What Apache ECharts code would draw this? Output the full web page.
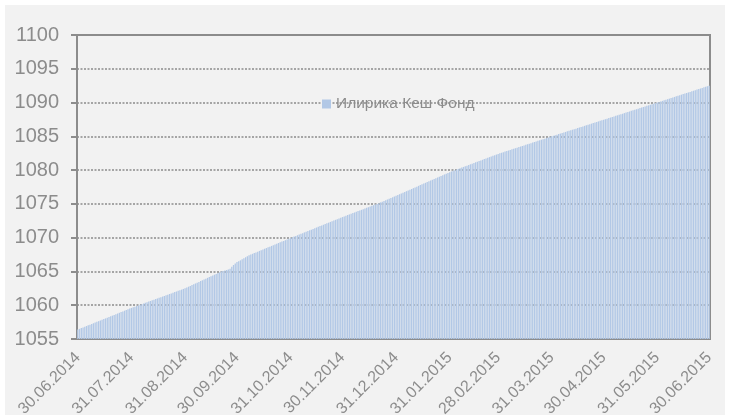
<!DOCTYPE html>
<html>
<head>
<meta charset="utf-8">
<script src="https://cdn.jsdelivr.net/npm/echarts@6/dist/echarts.min.js"></script>
<style>
  html, body { margin: 0; padding: 0; background: #ffffff; }
  #chart { position: absolute; left: 5px; top: 5px; width: 720px; height: 410px; }
</style>
</head>
<body>
<div id="chart"></div>
<script>
// месечни краеви за оската X
const tickLabels = ['30.06.2014', '31.07.2014', '31.08.2014', '30.09.2014', '31.10.2014', '30.11.2014',
  '31.12.2014', '31.01.2015', '28.02.2015', '31.03.2015', '30.04.2015', '31.05.2015', '30.06.2015']

const seriesName = 'Илирика Кеш Фонд'

// дневни вредности, прочитани од сликата
const jun2014 = [1056.40]
const jul2014 = [1056.50, 1056.61, 1056.71, 1056.81, 1056.92, 1057.02, 1057.12, 1057.23, 1057.33, 1057.43,
  1057.54, 1057.64, 1057.74, 1057.85, 1057.95, 1058.05, 1058.15, 1058.26, 1058.36, 1058.46,
  1058.57, 1058.67, 1058.77, 1058.88, 1058.98, 1059.08, 1059.19, 1059.29, 1059.39, 1059.50, 1059.60]
const aug2014 = [1059.69, 1059.79, 1059.88, 1059.97, 1060.07, 1060.16, 1060.25, 1060.35, 1060.44, 1060.54,
  1060.63, 1060.72, 1060.82, 1060.91, 1061.00, 1061.10, 1061.19, 1061.28, 1061.38, 1061.47,
  1061.56, 1061.66, 1061.75, 1061.84, 1061.94, 1062.03, 1062.13, 1062.22, 1062.31, 1062.41, 1062.50]
const sep2014 = [1062.62, 1062.74, 1062.86, 1062.98, 1063.10, 1063.22, 1063.33, 1063.45, 1063.57, 1063.69,
  1063.81, 1063.93, 1064.05, 1064.17, 1064.29, 1064.40, 1064.52, 1064.64, 1064.76, 1064.88,
  1065.00, 1065.07, 1065.14, 1065.21, 1065.28, 1065.40, 1065.70, 1065.95, 1066.18, 1066.40]
const oct2014 = [1066.52, 1066.64, 1066.80, 1066.95, 1067.10, 1067.25, 1067.40, 1067.51, 1067.61, 1067.72,
  1067.82, 1067.93, 1068.04, 1068.14, 1068.25, 1068.36, 1068.46, 1068.57, 1068.67, 1068.78,
  1068.89, 1068.99, 1069.10, 1069.21, 1069.31, 1069.42, 1069.52, 1069.63, 1069.74, 1069.84, 1069.95]
const nov2014 = [1070.05, 1070.16, 1070.26, 1070.36, 1070.47, 1070.57, 1070.67, 1070.78, 1070.88, 1070.98,
  1071.09, 1071.19, 1071.29, 1071.40, 1071.50, 1071.60, 1071.71, 1071.81, 1071.91, 1072.02,
  1072.12, 1072.22, 1072.33, 1072.43, 1072.53, 1072.64, 1072.74, 1072.84, 1072.95, 1073.05]
const dec2014 = [1073.15, 1073.25, 1073.34, 1073.44, 1073.54, 1073.64, 1073.73, 1073.83, 1073.93, 1074.03,
  1074.12, 1074.22, 1074.32, 1074.42, 1074.51, 1074.61, 1074.71, 1074.81, 1074.90, 1075.00,
  1075.11, 1075.22, 1075.33, 1075.44, 1075.55, 1075.65, 1075.76, 1075.87, 1075.98, 1076.09, 1076.20]
const jan2015 = [1076.31, 1076.43, 1076.54, 1076.65, 1076.76, 1076.88, 1076.99, 1077.10, 1077.22, 1077.33,
  1077.44, 1077.55, 1077.67, 1077.78, 1077.89, 1078.01, 1078.12, 1078.23, 1078.35, 1078.46,
  1078.57, 1078.68, 1078.80, 1078.91, 1079.02, 1079.14, 1079.25, 1079.36, 1079.47, 1079.59, 1079.70]
const feb2015 = [1079.80, 1079.89, 1079.99, 1080.09, 1080.18, 1080.28, 1080.37, 1080.47, 1080.57, 1080.66,
  1080.76, 1080.86, 1080.95, 1081.05, 1081.15, 1081.24, 1081.34, 1081.44, 1081.53, 1081.63,
  1081.72, 1081.82, 1081.92, 1082.01, 1082.11, 1082.21, 1082.30, 1082.40]
const mar2015 = [1082.48, 1082.57, 1082.65, 1082.74, 1082.82, 1082.90, 1082.99, 1083.07, 1083.15, 1083.24,
  1083.32, 1083.41, 1083.49, 1083.57, 1083.66, 1083.74, 1083.83, 1083.91, 1083.99, 1084.08,
  1084.16, 1084.25, 1084.33, 1084.41, 1084.50, 1084.58, 1084.66, 1084.75, 1084.83, 1084.92, 1085.00]
const apr2015 = [1085.08, 1085.16, 1085.25, 1085.33, 1085.41, 1085.49, 1085.57, 1085.65, 1085.74, 1085.82,
  1085.90, 1085.98, 1086.06, 1086.14, 1086.23, 1086.31, 1086.39, 1086.47, 1086.55, 1086.63,
  1086.72, 1086.80, 1086.88, 1086.96, 1087.04, 1087.12, 1087.21, 1087.29, 1087.37, 1087.45]
const may2015 = [1087.53, 1087.61, 1087.70, 1087.78, 1087.86, 1087.94, 1088.03, 1088.11, 1088.19, 1088.27,
  1088.35, 1088.44, 1088.52, 1088.60, 1088.68, 1088.77, 1088.85, 1088.93, 1089.01, 1089.10,
  1089.18, 1089.26, 1089.34, 1089.42, 1089.51, 1089.59, 1089.67, 1089.75, 1089.84, 1089.92, 1090.00]
const jun2015 = [1090.08, 1090.17, 1090.25, 1090.33, 1090.42, 1090.50, 1090.58, 1090.67, 1090.75, 1090.83,
  1090.92, 1091.00, 1091.08, 1091.17, 1091.25, 1091.33, 1091.42, 1091.50, 1091.58, 1091.67,
  1091.75, 1091.83, 1091.92, 1092.00, 1092.08, 1092.17, 1092.25, 1092.33, 1092.42, 1092.50]

const values = [].concat(jun2014, jul2014, aug2014, sep2014, oct2014, nov2014, dec2014,
  jan2015, feb2015, mar2015, apr2015, may2015, jun2015)

// датуми од 30.06.2014 за секој ден
function pad(n) { return n < 10 ? '0' + n : '' + n }
const dates = []
const d = new Date(Date.UTC(2014, 5, 30))
for (let i = 0; i < values.length; i++) {
  dates.push(pad(d.getUTCDate()) + '.' + pad(d.getUTCMonth() + 1) + '.' + d.getUTCFullYear())
  d.setUTCDate(d.getUTCDate() + 1)
}

const isTick = (index, value) => tickLabels.indexOf(dates[index]) !== -1

const gray = '#8c8c8c'
const chart = echarts.init(document.getElementById('chart'), null, { renderer: 'canvas' })

chart.setOption({
  backgroundColor: '#f2f2f2',
  animation: false,
  textStyle: { fontFamily: 'Liberation Sans, Arial, sans-serif' },
  legend: {
    data: [seriesName],
    left: 312,
    top: 86,
    icon: 'rect',
    itemWidth: 9,
    itemHeight: 9,
    textStyle: { color: gray, fontSize: 15.5 }
  },
  grid: {
    left: 72,
    top: 30,
    width: 633,
    height: 304,
    show: true,
    borderColor: gray,
    borderWidth: 2,
    containLabel: false,
    outerBoundsMode: 'none'
  },
  xAxis: {
    type: 'category',
    data: dates,
    boundaryGap: true,
    axisLine: { lineStyle: { color: gray, width: 2 } },
    axisTick: {
      alignWithLabel: true,
      interval: isTick,
      length: 6,
      lineStyle: { color: gray, width: 2 }
    },
    axisLabel: {
      interval: isTick,
      rotate: 45,
      margin: 16,
      fontSize: 16,
      color: gray
    },
    splitLine: { show: false }
  },
  yAxis: {
    type: 'value',
    min: 1055,
    max: 1100,
    interval: 5,
    axisLine: { show: true, lineStyle: { color: gray, width: 2 } },
    axisTick: { show: true, length: 6, lineStyle: { color: gray, width: 2 } },
    axisLabel: { margin: 18, fontSize: 20, color: gray, formatter: v => String(v) },
    splitLine: { lineStyle: { color: gray, width: 1.5, type: [2, 1.5] } }
  },
  series: [{
    name: seriesName,
    type: 'bar',
    data: values,
    barCategoryGap: '25%',
    itemStyle: { color: '#b2c8e6' },
    silent: true
  }]
})
</script>
</body>
</html>
